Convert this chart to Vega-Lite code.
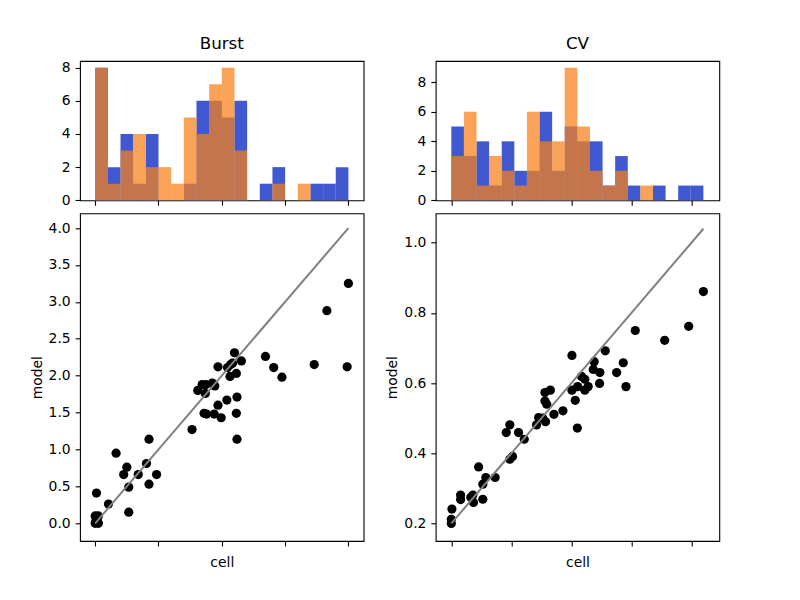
{
  "$schema": "https://vega.github.io/schema/vega-lite/v6.json",
  "padding": {"left": 29, "top": 35, "right": 5, "bottom": 5},
  "background": "white",
  "config": {
    "font": "DejaVu Sans",
    "view": {"stroke": "black", "strokeWidth": 1.1},
    "axis": {
      "domain": false, "grid": false,
      "tickColor": "black", "tickSize": 4.9, "tickWidth": 1.1,
      "labelFont": "DejaVu Sans", "labelFontSize": 13.9, "labelColor": "black", "labelPadding": 4.9,
      "labelFlush": false, "labelOverlap": false,
      "titleFont": "DejaVu Sans", "titleFontSize": 13.9, "titleFontWeight": "normal", "titleColor": "black"
    },
    "axisX": {"titlePadding": 9},
    "axisY": {"titlePadding": 4},
    "title": {"font": "DejaVu Sans", "fontSize": 16.7, "fontWeight": "normal", "color": "black", "offset": 8.3, "baseline": "alphabetic"}
  },
  "datasets": {
    "hist": [
      {"p": "Burst", "s": "cell", "b0": 0.0, "b1": 0.2, "n": 8},
      {"p": "Burst", "s": "cell", "b0": 0.2, "b1": 0.4, "n": 2},
      {"p": "Burst", "s": "cell", "b0": 0.4, "b1": 0.6, "n": 4},
      {"p": "Burst", "s": "cell", "b0": 0.6, "b1": 0.8, "n": 1},
      {"p": "Burst", "s": "cell", "b0": 0.8, "b1": 1.0, "n": 4},
      {"p": "Burst", "s": "cell", "b0": 1.4, "b1": 1.6, "n": 1},
      {"p": "Burst", "s": "cell", "b0": 1.6, "b1": 1.8, "n": 6},
      {"p": "Burst", "s": "cell", "b0": 1.8, "b1": 2.0, "n": 6},
      {"p": "Burst", "s": "cell", "b0": 2.0, "b1": 2.2, "n": 5},
      {"p": "Burst", "s": "cell", "b0": 2.2, "b1": 2.4, "n": 6},
      {"p": "Burst", "s": "cell", "b0": 2.6, "b1": 2.8, "n": 1},
      {"p": "Burst", "s": "cell", "b0": 2.8, "b1": 3.0, "n": 2},
      {"p": "Burst", "s": "cell", "b0": 3.4, "b1": 3.6, "n": 1},
      {"p": "Burst", "s": "cell", "b0": 3.6, "b1": 3.8, "n": 1},
      {"p": "Burst", "s": "cell", "b0": 3.8, "b1": 4.0, "n": 2},
      {"p": "Burst", "s": "model", "b0": 0.0, "b1": 0.2, "n": 8},
      {"p": "Burst", "s": "model", "b0": 0.2, "b1": 0.4, "n": 1},
      {"p": "Burst", "s": "model", "b0": 0.4, "b1": 0.6, "n": 3},
      {"p": "Burst", "s": "model", "b0": 0.6, "b1": 0.8, "n": 4},
      {"p": "Burst", "s": "model", "b0": 0.8, "b1": 1.0, "n": 2},
      {"p": "Burst", "s": "model", "b0": 1.0, "b1": 1.2, "n": 2},
      {"p": "Burst", "s": "model", "b0": 1.2, "b1": 1.4, "n": 1},
      {"p": "Burst", "s": "model", "b0": 1.4, "b1": 1.6, "n": 5},
      {"p": "Burst", "s": "model", "b0": 1.6, "b1": 1.8, "n": 4},
      {"p": "Burst", "s": "model", "b0": 1.8, "b1": 2.0, "n": 7},
      {"p": "Burst", "s": "model", "b0": 2.0, "b1": 2.2, "n": 8},
      {"p": "Burst", "s": "model", "b0": 2.2, "b1": 2.4, "n": 3},
      {"p": "Burst", "s": "model", "b0": 2.8, "b1": 3.0, "n": 1},
      {"p": "Burst", "s": "model", "b0": 3.2, "b1": 3.4, "n": 1},
      {"p": "CV", "s": "cell", "b0": 0.2, "b1": 0.242, "n": 5},
      {"p": "CV", "s": "cell", "b0": 0.242, "b1": 0.284, "n": 3},
      {"p": "CV", "s": "cell", "b0": 0.284, "b1": 0.326, "n": 4},
      {"p": "CV", "s": "cell", "b0": 0.326, "b1": 0.368, "n": 1},
      {"p": "CV", "s": "cell", "b0": 0.368, "b1": 0.41, "n": 4},
      {"p": "CV", "s": "cell", "b0": 0.41, "b1": 0.452, "n": 2},
      {"p": "CV", "s": "cell", "b0": 0.452, "b1": 0.494, "n": 2},
      {"p": "CV", "s": "cell", "b0": 0.494, "b1": 0.536, "n": 6},
      {"p": "CV", "s": "cell", "b0": 0.536, "b1": 0.578, "n": 2},
      {"p": "CV", "s": "cell", "b0": 0.578, "b1": 0.62, "n": 5},
      {"p": "CV", "s": "cell", "b0": 0.62, "b1": 0.662, "n": 4},
      {"p": "CV", "s": "cell", "b0": 0.662, "b1": 0.704, "n": 4},
      {"p": "CV", "s": "cell", "b0": 0.704, "b1": 0.746, "n": 1},
      {"p": "CV", "s": "cell", "b0": 0.746, "b1": 0.788, "n": 3},
      {"p": "CV", "s": "cell", "b0": 0.788, "b1": 0.83, "n": 1},
      {"p": "CV", "s": "cell", "b0": 0.872, "b1": 0.914, "n": 1},
      {"p": "CV", "s": "cell", "b0": 0.956, "b1": 0.998, "n": 1},
      {"p": "CV", "s": "cell", "b0": 0.998, "b1": 1.04, "n": 1},
      {"p": "CV", "s": "model", "b0": 0.2, "b1": 0.242, "n": 3},
      {"p": "CV", "s": "model", "b0": 0.242, "b1": 0.284, "n": 6},
      {"p": "CV", "s": "model", "b0": 0.284, "b1": 0.326, "n": 1},
      {"p": "CV", "s": "model", "b0": 0.326, "b1": 0.368, "n": 3},
      {"p": "CV", "s": "model", "b0": 0.368, "b1": 0.41, "n": 2},
      {"p": "CV", "s": "model", "b0": 0.41, "b1": 0.452, "n": 1},
      {"p": "CV", "s": "model", "b0": 0.452, "b1": 0.494, "n": 6},
      {"p": "CV", "s": "model", "b0": 0.494, "b1": 0.536, "n": 4},
      {"p": "CV", "s": "model", "b0": 0.536, "b1": 0.578, "n": 4},
      {"p": "CV", "s": "model", "b0": 0.578, "b1": 0.62, "n": 9},
      {"p": "CV", "s": "model", "b0": 0.62, "b1": 0.662, "n": 5},
      {"p": "CV", "s": "model", "b0": 0.662, "b1": 0.704, "n": 2},
      {"p": "CV", "s": "model", "b0": 0.704, "b1": 0.746, "n": 1},
      {"p": "CV", "s": "model", "b0": 0.746, "b1": 0.788, "n": 2},
      {"p": "CV", "s": "model", "b0": 0.83, "b1": 0.872, "n": 1}
    ],
    "pts": [
      {"p": "Burst", "cell": 0.02, "model": 0.41},
      {"p": "Burst", "cell": 0.00, "model": 0.10},
      {"p": "Burst", "cell": 0.05, "model": 0.10},
      {"p": "Burst", "cell": 0.01, "model": 0.03},
      {"p": "Burst", "cell": 0.05, "model": 0.00},
      {"p": "Burst", "cell": 0.03, "model": 0.05},
      {"p": "Burst", "cell": 0.00, "model": 0.00},
      {"p": "Burst", "cell": 0.02, "model": 0.01},
      {"p": "Burst", "cell": 0.21, "model": 0.26},
      {"p": "Burst", "cell": 0.53, "model": 0.15},
      {"p": "Burst", "cell": 0.33, "model": 0.95},
      {"p": "Burst", "cell": 0.45, "model": 0.66},
      {"p": "Burst", "cell": 0.50, "model": 0.76},
      {"p": "Burst", "cell": 0.53, "model": 0.49},
      {"p": "Burst", "cell": 0.68, "model": 0.66},
      {"p": "Burst", "cell": 0.81, "model": 0.81},
      {"p": "Burst", "cell": 0.85, "model": 1.14},
      {"p": "Burst", "cell": 0.85, "model": 0.53},
      {"p": "Burst", "cell": 0.97, "model": 0.66},
      {"p": "Burst", "cell": 1.53, "model": 1.27},
      {"p": "Burst", "cell": 1.62, "model": 1.80},
      {"p": "Burst", "cell": 1.69, "model": 1.88},
      {"p": "Burst", "cell": 1.75, "model": 1.88},
      {"p": "Burst", "cell": 1.74, "model": 1.76},
      {"p": "Burst", "cell": 1.85, "model": 1.90},
      {"p": "Burst", "cell": 1.89, "model": 1.86},
      {"p": "Burst", "cell": 1.94, "model": 2.12},
      {"p": "Burst", "cell": 1.72, "model": 1.49},
      {"p": "Burst", "cell": 1.76, "model": 1.48},
      {"p": "Burst", "cell": 1.88, "model": 1.48},
      {"p": "Burst", "cell": 1.94, "model": 1.60},
      {"p": "Burst", "cell": 1.99, "model": 1.43},
      {"p": "Burst", "cell": 2.08, "model": 1.67},
      {"p": "Burst", "cell": 2.09, "model": 2.11},
      {"p": "Burst", "cell": 2.14, "model": 2.15},
      {"p": "Burst", "cell": 2.17, "model": 2.17},
      {"p": "Burst", "cell": 2.20, "model": 2.31},
      {"p": "Burst", "cell": 2.13, "model": 1.99},
      {"p": "Burst", "cell": 2.23, "model": 2.03},
      {"p": "Burst", "cell": 2.24, "model": 1.71},
      {"p": "Burst", "cell": 2.23, "model": 1.49},
      {"p": "Burst", "cell": 2.24, "model": 1.14},
      {"p": "Burst", "cell": 2.31, "model": 2.20},
      {"p": "Burst", "cell": 2.69, "model": 2.26},
      {"p": "Burst", "cell": 2.82, "model": 2.11},
      {"p": "Burst", "cell": 2.95, "model": 1.98},
      {"p": "Burst", "cell": 3.46, "model": 2.15},
      {"p": "Burst", "cell": 3.66, "model": 2.88},
      {"p": "Burst", "cell": 3.98, "model": 2.12},
      {"p": "Burst", "cell": 4.00, "model": 3.25},
      {"p": "CV", "cell": 0.200, "model": 0.200},
      {"p": "CV", "cell": 0.200, "model": 0.212},
      {"p": "CV", "cell": 0.202, "model": 0.241},
      {"p": "CV", "cell": 0.231, "model": 0.281},
      {"p": "CV", "cell": 0.231, "model": 0.268},
      {"p": "CV", "cell": 0.272, "model": 0.281},
      {"p": "CV", "cell": 0.274, "model": 0.260},
      {"p": "CV", "cell": 0.265, "model": 0.275},
      {"p": "CV", "cell": 0.291, "model": 0.361},
      {"p": "CV", "cell": 0.305, "model": 0.312},
      {"p": "CV", "cell": 0.305, "model": 0.269},
      {"p": "CV", "cell": 0.315, "model": 0.331},
      {"p": "CV", "cell": 0.346, "model": 0.331},
      {"p": "CV", "cell": 0.383, "model": 0.459},
      {"p": "CV", "cell": 0.395, "model": 0.481},
      {"p": "CV", "cell": 0.395, "model": 0.383},
      {"p": "CV", "cell": 0.404, "model": 0.391},
      {"p": "CV", "cell": 0.424, "model": 0.459},
      {"p": "CV", "cell": 0.443, "model": 0.440},
      {"p": "CV", "cell": 0.484, "model": 0.481},
      {"p": "CV", "cell": 0.491, "model": 0.502},
      {"p": "CV", "cell": 0.512, "model": 0.573},
      {"p": "CV", "cell": 0.512, "model": 0.549},
      {"p": "CV", "cell": 0.518, "model": 0.540},
      {"p": "CV", "cell": 0.530, "model": 0.580},
      {"p": "CV", "cell": 0.514, "model": 0.490},
      {"p": "CV", "cell": 0.542, "model": 0.511},
      {"p": "CV", "cell": 0.505, "model": 0.500},
      {"p": "CV", "cell": 0.572, "model": 0.521},
      {"p": "CV", "cell": 0.602, "model": 0.679},
      {"p": "CV", "cell": 0.602, "model": 0.580},
      {"p": "CV", "cell": 0.613, "model": 0.551},
      {"p": "CV", "cell": 0.620, "model": 0.472},
      {"p": "CV", "cell": 0.621, "model": 0.590},
      {"p": "CV", "cell": 0.634, "model": 0.619},
      {"p": "CV", "cell": 0.645, "model": 0.611},
      {"p": "CV", "cell": 0.645, "model": 0.580},
      {"p": "CV", "cell": 0.656, "model": 0.590},
      {"p": "CV", "cell": 0.673, "model": 0.639},
      {"p": "CV", "cell": 0.676, "model": 0.661},
      {"p": "CV", "cell": 0.695, "model": 0.630},
      {"p": "CV", "cell": 0.694, "model": 0.599},
      {"p": "CV", "cell": 0.713, "model": 0.692},
      {"p": "CV", "cell": 0.751, "model": 0.630},
      {"p": "CV", "cell": 0.773, "model": 0.658},
      {"p": "CV", "cell": 0.782, "model": 0.590},
      {"p": "CV", "cell": 0.813, "model": 0.750},
      {"p": "CV", "cell": 0.911, "model": 0.722},
      {"p": "CV", "cell": 0.991, "model": 0.762},
      {"p": "CV", "cell": 1.040, "model": 0.861}
    ],
    "diag": [
      {"p": "Burst", "v": 0.0},
      {"p": "Burst", "v": 4.0},
      {"p": "CV", "v": 0.2},
      {"p": "CV", "v": 1.04}
    ]
  },
  "bounds": "flush",
  "columns": 2,
  "spacing": {"row": 12.3, "column": 71.7},
  "concat": [
    {
      "width": 283.6, "height": 139.3,
      "title": "Burst",
      "data": {"name": "hist"},
      "transform": [{"filter": "datum.p === 'Burst'"}],
      "layer": [
        {
          "transform": [{"filter": "datum.s === 'cell'"}],
          "mark": {"type": "rect", "color": "#4059D0", "opacity": 1},
          "encoding": {
            "x": {"field": "b0", "type": "quantitative", "scale": {"domain": [-0.24, 4.24], "nice": false, "zero": false}, "axis": {"values": [0, 1, 2, 3, 4], "labels": false, "title": null}},
            "x2": {"field": "b1"},
            "y": {"field": "n", "type": "quantitative", "scale": {"domain": [0, 8.4], "nice": false}, "axis": {"values": [0, 2, 4, 6, 8], "format": "d", "title": null}},
            "y2": {"datum": 0}
          }
        },
        {
          "transform": [{"filter": "datum.s === 'model'"}],
          "mark": {"type": "rect", "color": "#F7801A", "opacity": 0.73},
          "encoding": {
            "x": {"field": "b0", "type": "quantitative", "axis": {"values": [0, 1, 2, 3, 4], "labels": false, "title": null}},
            "x2": {"field": "b1"},
            "y": {"field": "n", "type": "quantitative", "axis": {"values": [0, 2, 4, 6, 8], "format": "d", "title": null}},
            "y2": {"datum": 0}
          }
        }
      ]
    },
    {
      "width": 283.6, "height": 139.3,
      "title": "CV",
      "data": {"name": "hist"},
      "transform": [{"filter": "datum.p === 'CV'"}],
      "layer": [
        {
          "transform": [{"filter": "datum.s === 'cell'"}],
          "mark": {"type": "rect", "color": "#4059D0", "opacity": 1},
          "encoding": {
            "x": {"field": "b0", "type": "quantitative", "scale": {"domain": [0.148, 1.093], "nice": false, "zero": false}, "axis": {"values": [0.2, 0.4, 0.6, 0.8, 1.0], "labels": false, "title": null}},
            "x2": {"field": "b1"},
            "y": {"field": "n", "type": "quantitative", "scale": {"domain": [0, 9.45], "nice": false}, "axis": {"values": [0, 2, 4, 6, 8], "format": "d", "title": null}},
            "y2": {"datum": 0}
          }
        },
        {
          "transform": [{"filter": "datum.s === 'model'"}],
          "mark": {"type": "rect", "color": "#F7801A", "opacity": 0.73},
          "encoding": {
            "x": {"field": "b0", "type": "quantitative", "axis": {"values": [0.2, 0.4, 0.6, 0.8, 1.0], "labels": false, "title": null}},
            "x2": {"field": "b1"},
            "y": {"field": "n", "type": "quantitative", "axis": {"values": [0, 2, 4, 6, 8], "format": "d", "title": null}},
            "y2": {"datum": 0}
          }
        }
      ]
    },
    {
      "width": 283.6, "height": 327.7,
      "layer": [
        {
          "data": {"name": "pts"},
          "transform": [{"filter": "datum.p === 'Burst'"}],
          "mark": {"type": "circle", "color": "black", "opacity": 1, "size": 85},
          "encoding": {
            "x": {"field": "cell", "type": "quantitative", "scale": {"domain": [-0.24, 4.24], "nice": false, "zero": false}, "axis": {"values": [0, 1, 2, 3, 4], "labels": false, "title": "cell"}},
            "y": {"field": "model", "type": "quantitative", "scale": {"domain": [-0.24, 4.2], "nice": false, "zero": false}, "axis": {"values": [0, 0.5, 1, 1.5, 2, 2.5, 3, 3.5, 4], "format": ".1f", "title": "model"}}
          }
        },
        {
          "data": {"name": "diag"},
          "transform": [{"filter": "datum.p === 'Burst'"}],
          "mark": {"type": "line", "color": "#808080", "strokeWidth": 2},
          "encoding": {
            "x": {"field": "v", "type": "quantitative", "axis": {"values": [0, 1, 2, 3, 4], "labels": false, "title": "cell"}},
            "y": {"field": "v", "type": "quantitative", "axis": {"values": [0, 0.5, 1, 1.5, 2, 2.5, 3, 3.5, 4], "format": ".1f", "title": "model"}}
          }
        }
      ]
    },
    {
      "width": 283.6, "height": 327.7,
      "layer": [
        {
          "data": {"name": "pts"},
          "transform": [{"filter": "datum.p === 'CV'"}],
          "mark": {"type": "circle", "color": "black", "opacity": 1, "size": 85},
          "encoding": {
            "x": {"field": "cell", "type": "quantitative", "scale": {"domain": [0.148, 1.093], "nice": false, "zero": false}, "axis": {"values": [0.2, 0.4, 0.6, 0.8, 1.0], "labels": false, "title": "cell"}},
            "y": {"field": "model", "type": "quantitative", "scale": {"domain": [0.15, 1.084], "nice": false, "zero": false}, "axis": {"values": [0.2, 0.4, 0.6, 0.8, 1.0], "format": ".1f", "title": "model"}}
          }
        },
        {
          "data": {"name": "diag"},
          "transform": [{"filter": "datum.p === 'CV'"}],
          "mark": {"type": "line", "color": "#808080", "strokeWidth": 2},
          "encoding": {
            "x": {"field": "v", "type": "quantitative", "axis": {"values": [0.2, 0.4, 0.6, 0.8, 1.0], "labels": false, "title": "cell"}},
            "y": {"field": "v", "type": "quantitative", "axis": {"values": [0.2, 0.4, 0.6, 0.8, 1.0], "format": ".1f", "title": "model"}}
          }
        }
      ]
    }
  ]
}
